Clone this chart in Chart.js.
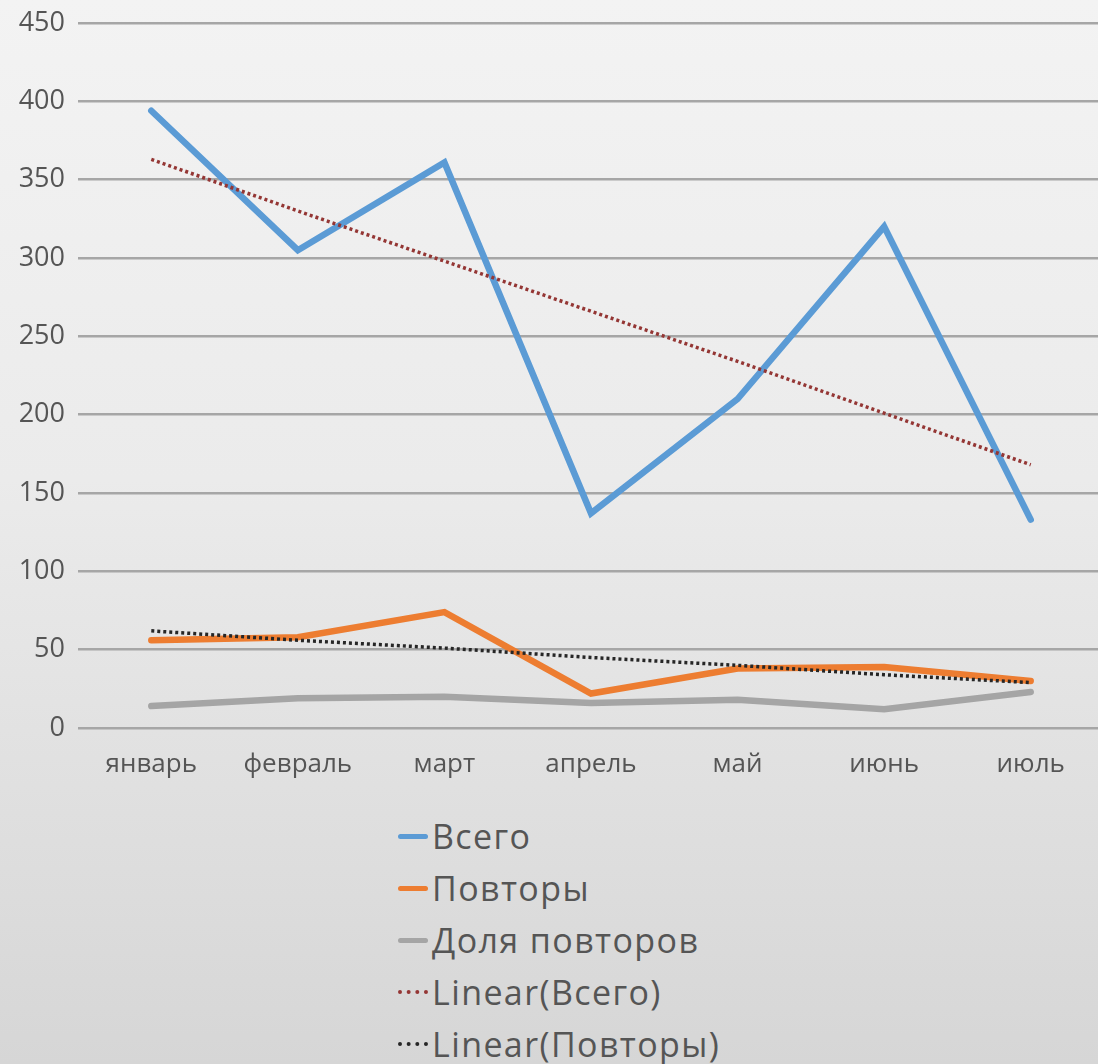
<!DOCTYPE html>
<html>
<head>
<meta charset="utf-8">
<script src="https://cdn.jsdelivr.net/npm/chart.js@4"></script>
<style>
  html, body { margin: 0; padding: 0; width: 1098px; height: 1064px; overflow: hidden; }
  body { background: linear-gradient(to bottom, #f3f3f3 0%, #ebebeb 45%, #d6d6d6 100%); font-family: "Open Sans", sans-serif; position: relative; }
  #wrap { position: absolute; left: 0; top: 0; width: 1104px; height: 800px; }
  #legend { position: absolute; left: 398px; top: 810px; color: #555555; font-size: 34px; letter-spacing: 1.4px; }
  .row { height: 52px; display: flex; align-items: center; }
  .sym { width: 30px; height: 0; margin-right: 4px; }
</style>
</head>
<body>
<div id="wrap"><canvas id="c" width="1104" height="800"></canvas></div>
<div id="legend"></div>
<script>
const categories = ["январь", "февраль", "март", "апрель", "май", "июнь", "июль"];
const vsego = [394, 305, 361, 137, 210, 320, 133];
const povtory = [56, 58, 74, 22, 38, 39, 30];
const dolya = [14, 19, 20, 16, 18, 12, 23];
const linearVsego = [363, 330, 298, 266, 234, 201, 168];
const linearPovtory = [62, 56, 51, 45, 40, 34, 29];
const yTicks = [0, 50, 100, 150, 200, 250, 300, 350, 400, 450];

const seriesNames = ["Всего", "Повторы", "Доля повторов", "Linear(Всего)", "Linear(Повторы)"];
const seriesColors = ["#5b9bd5", "#ed7d31", "#a5a5a5", "#943634", "#262626"];

function line(label, data, color, width, dash, order) {
  return {
    label, data, borderColor: color, backgroundColor: color,
    borderWidth: width, borderDash: dash || [], pointRadius: 0, pointHoverRadius: 0,
    tension: 0, fill: false, borderCapStyle: dash ? 'butt' : 'round', borderJoinStyle: 'miter', order
  };
}

const chart = new Chart(document.getElementById('c'), {
  type: 'line',
  data: {
    labels: categories,
    datasets: [
      line(seriesNames[0], vsego, seriesColors[0], 6.5, null, 5),
      line(seriesNames[1], povtory, seriesColors[1], 6.5, null, 4),
      line(seriesNames[2], dolya, seriesColors[2], 6.5, null, 3),
      line(seriesNames[3], linearVsego, seriesColors[3], 3.5, [3, 3], 1),
      line(seriesNames[4], linearPovtory, seriesColors[4], 3.5, [3, 3], 2)
    ]
  },
  options: {
    responsive: false,
    animation: false,
    devicePixelRatio: 1,
    layout: { autoPadding: false, padding: { top: 23, right: 0, left: 0, bottom: 0 } },
    plugins: { legend: { display: false }, tooltip: { enabled: false } },
    scales: {
      x: {
        offset: true,
        grid: { display: false },
        border: { display: false },
        ticks: { color: '#555555', font: { family: 'Open Sans', size: 26 }, padding: 13, maxRotation: 0, autoSkip: false },
        afterFit: s => { s.height = 72; s.paddingLeft = 0; s.paddingRight = 0; }
      },
      y: {
        min: 0, max: 450,
        afterBuildTicks: s => { s.ticks = yTicks.map(v => ({ value: v })); },
        grid: { color: '#a6a6a6', lineWidth: 2.5, drawTicks: false },
        border: { display: false },
        ticks: { color: '#555555', font: { family: 'Open Sans', size: 27 }, padding: 13 },
        afterFit: s => { s.width = 78; s.paddingTop = 0; s.paddingBottom = 0; }
      }
    }
  }
});

const legend = document.getElementById('legend');
chart.data.datasets.forEach((ds, i) => {
  const row = document.createElement('div');
  row.className = 'row';
  const sym = document.createElement('span');
  sym.className = 'sym';
  if (ds.borderDash.length) {
    sym.style.borderTop = '4px dotted ' + ds.borderColor;
  } else {
    sym.style.borderTop = '5px solid ' + ds.borderColor;
    sym.style.borderRadius = '3px';
  }
  const txt = document.createElement('span');
  txt.textContent = ds.label;
  row.appendChild(sym);
  row.appendChild(txt);
  legend.appendChild(row);
});
</script>
</body>
</html>
